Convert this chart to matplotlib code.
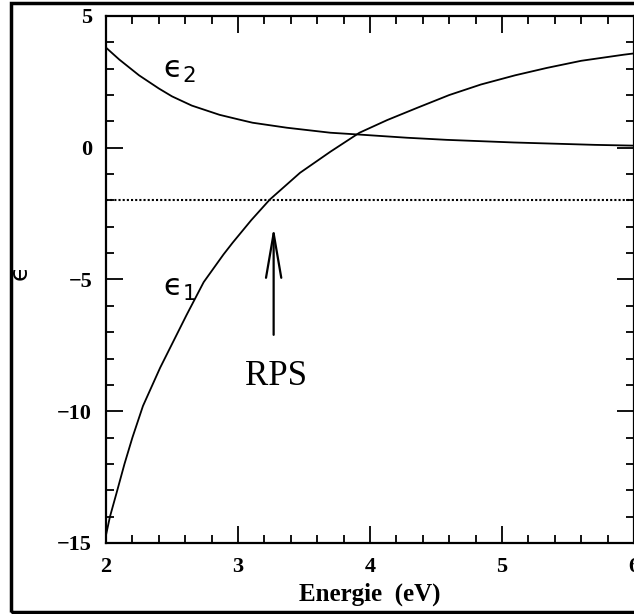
import matplotlib
matplotlib.use("Agg")
import matplotlib.pyplot as plt
from matplotlib.patches import Rectangle
from matplotlib.ticker import MultipleLocator

# values
eps1_x = [2.00, 2.03, 2.08, 2.14, 2.20, 2.28, 2.41, 2.51, 2.61, 2.74, 2.89, 2.96, 3.10,
          3.24, 3.47, 3.70, 3.92, 4.13, 4.36, 4.60, 4.84, 5.10, 5.34, 5.60, 5.92, 6.00]
eps1_y = [-14.7, -14.0, -13.1, -12.0, -11.0, -9.8, -8.35, -7.35, -6.35, -5.1, -4.05, -3.6, -2.75,
          -1.97, -0.95, -0.15, 0.57, 1.05, 1.52, 2.0, 2.4, 2.75, 3.03, 3.3, 3.53, 3.58]

eps2_x = [2.00, 2.10, 2.25, 2.40, 2.50, 2.65, 2.86, 3.00, 3.11, 3.37, 3.70, 3.92,
          4.28, 4.58, 5.09, 5.70, 6.00]
eps2_y = [3.8, 3.35, 2.75, 2.25, 1.95, 1.6, 1.25, 1.08, 0.95, 0.76, 0.57, 0.50,
          0.38, 0.30, 0.20, 0.11, 0.08]

rps_level = -2.0
arrow_x = 3.27
arrow_from = -7.1
arrow_to = -3.0

fig = plt.figure(figsize=(6.34, 6.14), dpi=100)
ax = fig.add_axes([106 / 634, 1 - 543 / 614, 528 / 634, 527 / 614])

ax.plot(eps1_x, eps1_y, color="black", linewidth=1.3)
ax.plot(eps2_x, eps2_y, color="black", linewidth=1.3)
ax.axhline(rps_level, color="black", linewidth=1.5, linestyle=(0, (1, 1)))

ax.annotate("", xy=(arrow_x, arrow_to), xytext=(arrow_x, arrow_from),
            arrowprops=dict(arrowstyle="->,head_length=3.2,head_width=0.55",
                            color="black", linewidth=1.6, shrinkA=0, shrinkB=0))

ax.text(3.29, -8.7, "RPS", fontsize=25, family="Liberation Serif",
        ha="center", va="center")
ax.text(2.43, 2.95, "ϵ$_2$", fontsize=22, ha="left", va="center")
ax.text(2.43, -5.35, "ϵ$_1$", fontsize=22, ha="left", va="center")

ax.set_xlim(2, 6)
ax.set_ylim(-15, 5)
ax.xaxis.set_major_locator(MultipleLocator(1))
ax.xaxis.set_minor_locator(MultipleLocator(0.2))
ax.yaxis.set_major_locator(MultipleLocator(5))
ax.yaxis.set_minor_locator(MultipleLocator(1))
ax.tick_params(which="both", direction="in", top=True, right=True, width=1.3)
ax.tick_params(which="major", length=12, labelsize=16)
ax.tick_params(which="minor", length=6)
ax.tick_params(axis="x", pad=10)
ax.tick_params(axis="y", pad=10)
for lab in ax.get_xticklabels() + ax.get_yticklabels():
    lab.set_family("Liberation Serif")
    lab.set_fontweight("bold")
for sp in ax.spines.values():
    sp.set_linewidth(1.6)

ax.set_xlabel("Energie  (eV)", fontsize=18, family="Liberation Serif",
              fontweight="bold", labelpad=4)
ax.set_ylabel("ϵ", fontsize=18)
ax.yaxis.set_label_coords(-0.14, 0.513)

# outer frame around the whole picture
fig.patches.append(Rectangle((11 / 634, 2 / 614), 1.0, 609 / 614, transform=fig.transFigure,
                             fill=False, edgecolor="black", linewidth=2.5))

fig.savefig("out.png", dpi=100)
